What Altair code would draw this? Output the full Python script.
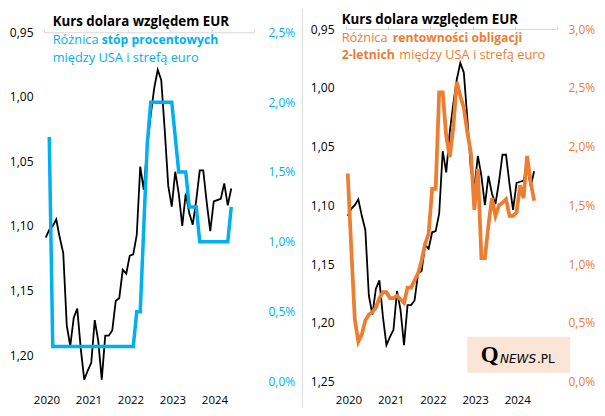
import altair as alt
import pandas as pd

# ---------------- data (monthly, Jan 2020 .. Jun 2024) ----------------
months = [f"{2020 + i // 12}-{i % 12 + 1:02d}" for i in range(54)]

eurusd = [1.109, 1.103, 1.100, 1.095, 1.109, 1.121, 1.177, 1.193, 1.171, 1.164,
          1.195, 1.219, 1.212, 1.206, 1.173, 1.189, 1.219, 1.185, 1.185, 1.181,
          1.158, 1.156, 1.134, 1.137, 1.123, 1.122, 1.107, 1.054, 1.072, 1.038,
          1.014, 0.993, 0.979, 0.987, 1.026, 1.069, 1.085, 1.058, 1.075, 1.100,
          1.075, 1.090, 1.099, 1.080, 1.057, 1.057, 1.082, 1.104, 1.081, 1.080,
          1.079, 1.067, 1.084, 1.071]

# policy-rate spread USA - euro area, from Feb 2020
rate_months = months[1:]
rate_diff = [1.75] + [0.25] * 24 + [0.5, 0.5, 1.1, 1.7] + [2.0] * 7 + [1.75] \
    + [1.5] * 3 + [1.25] * 3 + [1.0] * 9 + [1.25]

# 2-year bond yield spread USA - euro area
bond_diff = [1.77, 1.13, 0.53, 0.34, 0.40, 0.52, 0.57, 0.59, 0.63, 0.71,
             0.76, 0.76, 0.71, 0.71, 0.73, 0.70, 0.67, 0.80, 0.80, 0.86,
             0.92, 1.03, 1.17, 1.26, 1.64, 1.64, 2.46, 2.46, 2.09, 1.91,
             2.16, 2.55, 2.43, 2.33, 2.12, 1.95, 1.46, 1.81, 1.05, 1.05,
             1.33, 1.56, 1.41, 1.50, 1.52, 1.55, 1.41, 1.41, 1.44, 1.67,
             1.56, 1.92, 1.70, 1.54]

year_ticks = [2020, 2021, 2022, 2023, 2024, 2025]
year_labels = [2020, 2021, 2022, 2023, 2024]
eur_ticks_l = [0.95, 1.00, 1.05, 1.10, 1.15, 1.20]
eur_ticks_r = [0.95, 1.00, 1.05, 1.10, 1.15, 1.20, 1.25]
pct_ticks_l = [0.0, 0.5, 1.0, 1.5, 2.0, 2.5]
pct_ticks_r = [0.0, 0.5, 1.0, 1.5, 2.0, 2.5, 3.0]


def to_t(m):
    y, mo = m.split("-")
    return int(y) + (int(mo) - 0.5) / 12


df_eur = pd.DataFrame({"t": [to_t(m) for m in months], "v": eurusd})
df_rate = pd.DataFrame({"t": [to_t(m) for m in rate_months], "v": rate_diff})
df_bond = pd.DataFrame({"t": [to_t(m) for m in months], "v": bond_diff})
dummy = pd.DataFrame({"d": [0]})

BLUE = "#00B0F0"
ORANGE = "#ED7D31"
GRAY = "#D9D9D9"
FONT = "Open Sans"
YLBL = 12
XLBL = 11.5
TITLE = 13.3   # bold black title
SUBR = 12.8    # regular part of subtitle
SUBB = 12.2    # bold part of subtitle
H = 352.5
W1, W2 = 210, 211

xs = alt.Scale(domain=[2020, 2025], nice=False, zero=False)
eur_fmt = "replace(format(datum.value, '.2f'), '.', ',')"
pct_fmt = "replace(format(datum.value, '.1f'), '.', ',') + '%'"


def top_axis(offset):
    return alt.Axis(orient="top", labels=False, ticks=True, tickSize=3,
                    domain=True, domainColor=GRAY, tickColor=GRAY,
                    domainWidth=1, tickWidth=1, values=year_ticks,
                    grid=False, offset=offset, title=None)


bottom_axis = alt.Axis(orient="bottom", labels=True, ticks=False, tickSize=0,
                       domain=False, grid=False, values=year_labels,
                       format="d", labelOffset=2.5, labelPadding=12.5,
                       labelFlush=False, labelOverlap=False,
                       labelColor="#000000", labelFont=FONT,
                       labelFontSize=XLBL, title=None)


def txt(s, x, y, color, size=SUBR, weight="normal", font=FONT, style="normal"):
    return alt.Chart(dummy).mark_text(
        align="left", baseline="alphabetic", color=color, fontSize=size,
        fontWeight=weight, font=font, fontStyle=style
    ).encode(x=alt.value(x), y=alt.value(y), text=alt.value(s))


# ---------------- left panel ----------------
black_l = alt.Chart(df_eur).mark_line(color="#000000", strokeWidth=1.8).encode(
    x=alt.X("t:Q", scale=xs, axis=top_axis(-3.3)),
    y=alt.Y("v:Q",
            scale=alt.Scale(domain=[0.94744, 1.2205], reverse=True, nice=False, zero=False),
            axis=alt.Axis(orient="left", values=eur_ticks_l, labelExpr=eur_fmt,
                          domain=False, ticks=False, grid=False, labelPadding=11,
                          labelColor="#000000", labelFont=FONT, labelFontSize=YLBL,
                          title=None)),
)
blue_l = alt.Chart(df_rate).mark_line(color=BLUE, strokeWidth=3.5).encode(
    x=alt.X("t:Q", scale=xs, axis=bottom_axis),
    y=alt.Y("v:Q",
            scale=alt.Scale(domain=[0, 2.5236], nice=False, zero=False),
            axis=alt.Axis(orient="right", values=pct_ticks_l, labelExpr=pct_fmt,
                          domain=False, ticks=False, grid=False, labelPadding=14,
                          labelColor=BLUE, labelFont=FONT, labelFontSize=YLBL,
                          title=None)),
)
sep = alt.Chart(dummy).mark_rule(color=GRAY, strokeWidth=1).encode(
    x=alt.value(258.3), y=alt.value(-20.5), y2=alt.value(379))
anchor = alt.Chart(dummy).mark_rule(color="#FFFFFF", strokeWidth=1).encode(
    x=alt.value(-35.5), x2=alt.value(-34.5), y=alt.value(200))

left = alt.layer(
    black_l, blue_l,
    txt("Kurs dolara względem EUR", 8.7, -3, "#000000", size=TITLE, weight="bold"),
    txt("Różnica", 8.7, 15.3, BLUE),
    txt("stóp procentowych", 57.7, 15.3, BLUE, size=SUBB, weight="bold"),
    txt("między USA i strefą euro", 8.7, 32.7, BLUE),
    sep, anchor,
).resolve_scale(y="independent").resolve_axis(x="independent").properties(width=W1, height=H)

# ---------------- right panel ----------------
black_r = alt.Chart(df_eur).mark_line(color="#000000", strokeWidth=1.8).encode(
    x=alt.X("t:Q", scale=xs, axis=top_axis(0)),
    y=alt.Y("v:Q",
            scale=alt.Scale(domain=[0.95, 1.25], reverse=True, nice=False, zero=False),
            axis=alt.Axis(orient="left", values=eur_ticks_r, labelExpr=eur_fmt,
                          domain=False, ticks=False, grid=False, labelPadding=12,
                          labelColor="#000000", labelFont=FONT, labelFontSize=YLBL,
                          title=None)),
)
orange_r = alt.Chart(df_bond).mark_line(color=ORANGE, strokeWidth=3.75).encode(
    x=alt.X("t:Q", scale=xs, axis=bottom_axis),
    y=alt.Y("v:Q",
            scale=alt.Scale(domain=[0, 3.0], nice=False, zero=False),
            axis=alt.Axis(orient="right", values=pct_ticks_r, labelExpr=pct_fmt,
                          domain=False, ticks=False, grid=False, labelPadding=11,
                          labelColor=ORANGE, labelFont=FONT, labelFontSize=YLBL,
                          title=None)),
)
logo_box = alt.Chart(dummy).mark_rect(color="#FBE5D6").encode(
    x=alt.value(121.3), x2=alt.value(224), y=alt.value(307.7), y2=alt.value(343.7))

right = alt.layer(
    black_r, orange_r,
    txt("Kurs dolara względem EUR", -4.3, -5, "#000000", size=TITLE, weight="bold"),
    txt("Różnica", -4.3, 12.7, ORANGE),
    txt("rentowności obligacji", 46.7, 12.7, ORANGE, size=SUBB, weight="bold"),
    txt("2-letnich", -4.3, 30, ORANGE, size=SUBB, weight="bold"),
    txt("między USA i strefą euro", 53.3, 30, ORANGE),
    logo_box,
    txt("Q", 134.7, 332.7, "#000000", size=23, weight="bold", font="Liberation Serif"),
    txt("NEWS", 154, 333.7, "#000000", size=12, font="DejaVu Sans", style="italic"),
    txt(".PL", 191, 333.7, "#000000", size=12, font="DejaVu Sans"),
).resolve_scale(y="independent").resolve_axis(x="independent").properties(width=W2, height=H)

chart = alt.hconcat(left, right, spacing=92, bounds="flush").configure(
    padding=0, background="#FFFFFF"
).configure_view(strokeWidth=0)

chart.save("out.html", embed_options={"renderer": "svg", "actions": False})
